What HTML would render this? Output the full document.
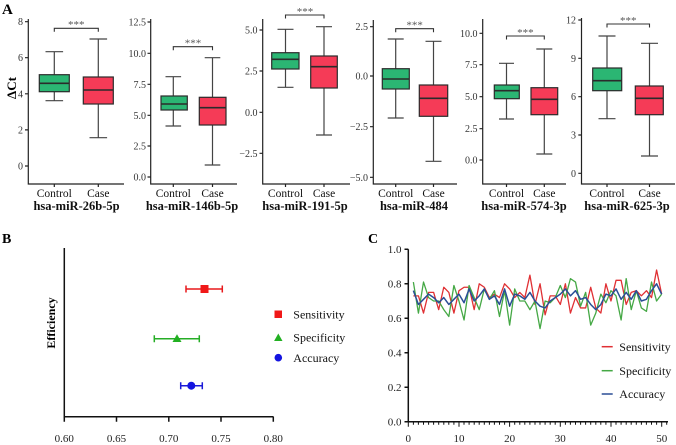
<!DOCTYPE html>
<html><head><meta charset="utf-8"><style>
html,body{margin:0;padding:0;background:#fff;}
svg{display:block;font-family:"Liberation Serif",serif;}
</style></head><body>
<svg width="676" height="445" viewBox="0 0 676 445" xmlns="http://www.w3.org/2000/svg">
<!-- Panel labels -->
<text x="2" y="14" font-size="15" font-weight="bold">A</text>
<text x="2" y="243" font-size="14" font-weight="bold">B</text>
<text x="368" y="243" font-size="14" font-weight="bold">C</text>

<!-- ΔCt label -->
<text transform="translate(16,88) rotate(-90)" text-anchor="middle" font-size="13" font-weight="bold">ΔCt</text>

<g stroke="#222" stroke-width="1.2" fill="none">
<!-- Plot 1 axes -->
<path d="M28.3,19V184H124M25,166H28.3M25,129.9H28.3M25,93.8H28.3M25,57.7H28.3M25,21.7H28.3M54.3,184v3M98.3,184v3"/>
<!-- Plot 2 axes -->
<path d="M150.7,19V184H237M147.5,22H150.7M147.5,53.3H150.7M147.5,84.3H150.7M147.5,115.3H150.7M147.5,146H150.7M147.5,177H150.7M173.3,184v3M212.5,184v3"/>
<!-- Plot 3 axes -->
<path d="M262.7,19V184H350M259.5,30H262.7M259.5,71H262.7M259.5,112.3H262.7M259.5,153.3H262.7M285.5,184v3M324,184v3"/>
<!-- Plot 4 axes -->
<path d="M373.3,20V184H457M370,26.7H373.3M370,76H373.3M370,126.7H373.3M370,177.3H373.3M395.7,184v3M433.5,184v3"/>
<!-- Plot 5 axes -->
<path d="M482.7,19V184H566M479.5,33.3H482.7M479.5,64.7H482.7M479.5,96.7H482.7M479.5,128.7H482.7M479.5,160H482.7M506.5,184v3M544.3,184v3"/>
<!-- Plot 6 axes -->
<path d="M581.5,18V184H675M578.3,20H581.5M578.3,58.3H581.5M578.3,96.7H581.5M578.3,135H581.5M578.3,173.3H581.5M607,184v3M649.5,184v3"/>
</g>

<!-- tick labels -->
<g font-size="10" fill="#333" text-anchor="end">
<text x="23" y="169.5">0</text><text x="23" y="133.4">2</text><text x="23" y="97.3">4</text><text x="23" y="61.2">6</text><text x="23" y="25.2">8</text>
<text x="146" y="25.5">12.5</text><text x="146" y="56.8">10.0</text><text x="146" y="87.8">7.5</text><text x="146" y="118.8">5.0</text><text x="146" y="149.5">2.5</text><text x="146" y="180.5">0.0</text>
<text x="257.5" y="33.5">5.0</text><text x="257.5" y="74.5">2.5</text><text x="257.5" y="115.8">0.0</text><text x="257.5" y="156.8">−2.5</text>
<text x="368" y="30.2">2.5</text><text x="368" y="79.5">0.0</text><text x="368" y="130.2">−2.5</text><text x="368" y="180.8">−5.0</text>
<text x="477.5" y="36.8">10.0</text><text x="477.5" y="68.2">7.5</text><text x="477.5" y="100.2">5.0</text><text x="477.5" y="132.2">2.5</text><text x="477.5" y="163.5">0.0</text>
<text x="576" y="23.5">12</text><text x="576" y="61.8">9</text><text x="576" y="100.2">6</text><text x="576" y="138.5">3</text><text x="576" y="176.8">0</text>
</g>

<!-- category labels -->
<g font-size="11.5" fill="#111" text-anchor="middle">
<text x="54.3" y="197">Control</text><text x="98.3" y="197">Case</text>
<text x="173.3" y="197">Control</text><text x="212.5" y="197">Case</text>
<text x="285.5" y="197">Control</text><text x="324" y="197">Case</text>
<text x="395.7" y="197">Control</text><text x="433.5" y="197">Case</text>
<text x="506.5" y="197">Control</text><text x="544.3" y="197">Case</text>
<text x="607" y="197">Control</text><text x="649.5" y="197">Case</text>
</g>
<g font-size="12.5" font-weight="bold" fill="#111" text-anchor="middle">
<text x="76.5" y="210">hsa-miR-26b-5p</text>
<text x="192" y="210">hsa-miR-146b-5p</text>
<text x="305" y="210">hsa-miR-191-5p</text>
<text x="414" y="210">hsa-miR-484</text>
<text x="524" y="210">hsa-miR-574-3p</text>
<text x="627" y="210">hsa-miR-625-3p</text>
</g>

<!-- boxes -->
<g stroke="#2b2b2b" stroke-width="1.2">
<!-- Plot 1 control -->
<path d="M54.3,51.7V100.7M45.5,51.7H63.1M45.5,100.7H63.1" fill="none" stroke="#444"/>
<rect x="39.3" y="74.7" width="30" height="17" fill="#2bb673"/><path d="M39.3,83.3H69.3" stroke-width="1.6"/>
<!-- Plot 1 case -->
<path d="M98.3,39V137.7M89.5,39H107.1M89.5,137.7H107.1" fill="none" stroke="#444"/>
<rect x="83.3" y="77" width="30" height="27" fill="#f53b57"/><path d="M83.3,90H113.3" stroke-width="1.6"/>

<!-- Plot 2 -->
<path d="M173.3,76.7V126M165.5,76.7H181.1M165.5,126H181.1" fill="none" stroke="#444"/>
<rect x="161" y="96" width="26.3" height="14" fill="#2bb673"/><path d="M161,104H187.3" stroke-width="1.6"/>
<path d="M212.5,57.7V165M204.7,57.7H220.3M204.7,165H220.3" fill="none" stroke="#444"/>
<rect x="199.3" y="97.3" width="26.7" height="27.7" fill="#f53b57"/><path d="M199.3,107.7H226" stroke-width="1.6"/>

<!-- Plot 3 -->
<path d="M285.5,29.3V87.3M277.5,29.3H293.5M277.5,87.3H293.5" fill="none" stroke="#444"/>
<rect x="271.7" y="52.7" width="27.3" height="16.3" fill="#2bb673"/><path d="M271.7,59.3H299" stroke-width="1.6"/>
<path d="M324,26.7V135M316,26.7H332M316,135H332" fill="none" stroke="#444"/>
<rect x="310.7" y="56" width="26.6" height="32" fill="#f53b57"/><path d="M310.7,66.7H337.3" stroke-width="1.6"/>

<!-- Plot 4 -->
<path d="M395.7,39V118M387.7,39H403.7M387.7,118H403.7" fill="none" stroke="#444"/>
<rect x="382.3" y="68.7" width="27" height="20.3" fill="#2bb673"/><path d="M382.3,79H409.3" stroke-width="1.6"/>
<path d="M433.5,41.3V161.3M425.5,41.3H441.5M425.5,161.3H441.5" fill="none" stroke="#444"/>
<rect x="419.3" y="85" width="28.4" height="31.3" fill="#f53b57"/><path d="M419.3,98.3H447.7" stroke-width="1.6"/>

<!-- Plot 5 -->
<path d="M506.5,63.3V119M499,63.3H514M499,119H514" fill="none" stroke="#444"/>
<rect x="494.3" y="85" width="25" height="13.7" fill="#2bb673"/><path d="M494.3,90.7H519.3" stroke-width="1.6"/>
<path d="M544.3,49V154M536.3,49H552.3M536.3,154H552.3" fill="none" stroke="#444"/>
<rect x="531" y="87.7" width="26.7" height="27" fill="#f53b57"/><path d="M531,99.3H557.7" stroke-width="1.6"/>

<!-- Plot 6 -->
<path d="M607,36V118.7M598.5,36H615.5M598.5,118.7H615.5" fill="none" stroke="#444"/>
<rect x="592.7" y="68" width="29" height="22.7" fill="#2bb673"/><path d="M592.7,80.7H621.7" stroke-width="1.6"/>
<path d="M649.5,43.3V156M641,43.3H658M641,156H658" fill="none" stroke="#444"/>
<rect x="635.3" y="86" width="28" height="28.7" fill="#f53b57"/><path d="M635.3,98.3H663.3" stroke-width="1.6"/>
</g>

<!-- significance brackets -->
<g stroke="#333" stroke-width="1.1" fill="none">
<path d="M54.3,31.8V28.3H98.3V31.8"/>
<path d="M173.3,50.2V46.7H212.5V50.2"/>
<path d="M285.5,18.5V15H324V18.5"/>
<path d="M395.7,32.2V28.7H433.5V32.2"/>
<path d="M506.5,39.5V36H544.3V39.5"/>
<path d="M607,27.5V24H649.5V27.5"/>
</g>
<g font-size="11" fill="#555" text-anchor="middle">
<text x="76.3" y="28">***</text>
<text x="193" y="46.5">***</text>
<text x="305" y="15">***</text>
<text x="414.6" y="28.5">***</text>
<text x="525.4" y="36">***</text>
<text x="628.2" y="24">***</text>
</g>

<!-- Panel B -->
<text transform="translate(55,323) rotate(-90)" text-anchor="middle" font-size="12" font-weight="bold">Efficiency</text>
<g stroke="#111" stroke-width="1.5" fill="none">
<path d="M64.3,248V416.7H273.5"/>
<path d="M64.3,416.7v5M116.5,416.7v5M168.8,416.7v5M221,416.7v5M273.3,416.7v5"/>
</g>
<g font-size="11" fill="#222" text-anchor="middle">
<text x="64.3" y="442">0.60</text><text x="116.5" y="442">0.65</text><text x="168.8" y="442">0.70</text><text x="221" y="442">0.75</text><text x="273.3" y="442">0.80</text>
</g>
<g stroke-width="1.5" fill="none">
<path d="M186,289H222.3M186,285.5V292.5M222.3,285.5V292.5" stroke="#e8191c"/>
<path d="M154.3,338.7H199.3M154.3,335.2V342.2M199.3,335.2V342.2" stroke="#26ad26"/>
<path d="M180.7,385.7H202.3M180.7,382.2V389.2M202.3,382.2V389.2" stroke="#1a1ad8"/>
</g>
<rect x="200.5" y="285" width="8" height="8" fill="#f01818"/>
<path d="M177,334.2L181.5,342L172.5,342Z" fill="#22b022"/>
<circle cx="191.3" cy="385.7" r="4" fill="#1414e0"/>
<!-- B legend -->
<rect x="274.5" y="310.5" width="7.5" height="7.5" fill="#f01818"/>
<path d="M278.3,333.5L282.5,341L274.1,341Z" fill="#22b022"/>
<circle cx="278.3" cy="357.7" r="3.8" fill="#1414e0"/>
<g font-size="12" fill="#111">
<text x="293.3" y="318.5">Sensitivity</text>
<text x="293.3" y="341.3">Specificity</text>
<text x="293.3" y="361.8">Accuracy</text>
</g>

<!-- Panel C -->
<g stroke="#111" stroke-width="1.5" fill="none">
<path d="M408.3,249.3V421.7H668"/>
<path d="M404.5,249.3H408.3M404.5,283.8H408.3M404.5,318.3H408.3M404.5,352.7H408.3M404.5,387.2H408.3M404.5,421.7H408.3"/>
</g>
<g stroke="#111" stroke-width="1" fill="none">
<path d="M408.3,421.7v5M459,421.7v5M509.6,421.7v5M560.3,421.7v5M611,421.7v5M661.7,421.7v5"/>
<path d="M413.4,421.7v3M418.4,421.7v3M423.5,421.7v3M428.6,421.7v3M433.6,421.7v3M438.7,421.7v3M443.8,421.7v3M448.8,421.7v3M453.9,421.7v3
M464,421.7v3M469.1,421.7v3M474.2,421.7v3M479.2,421.7v3M484.3,421.7v3M489.4,421.7v3M494.4,421.7v3M499.5,421.7v3M504.6,421.7v3
M514.7,421.7v3M519.8,421.7v3M524.8,421.7v3M529.9,421.7v3M535,421.7v3M540,421.7v3M545.1,421.7v3M550.2,421.7v3M555.2,421.7v3
M565.4,421.7v3M570.4,421.7v3M575.5,421.7v3M580.6,421.7v3M585.6,421.7v3M590.7,421.7v3M595.8,421.7v3M600.8,421.7v3M605.9,421.7v3
M616,421.7v3M621.1,421.7v3M626.2,421.7v3M631.2,421.7v3M636.3,421.7v3M641.4,421.7v3M646.4,421.7v3M651.5,421.7v3M656.6,421.7v3
M666.7,421.7v3"/>
</g>
<g font-size="11" fill="#222" text-anchor="end">
<text x="401.5" y="253">1.0</text><text x="401.5" y="287.5">0.8</text><text x="401.5" y="322">0.6</text><text x="401.5" y="356.4">0.4</text><text x="401.5" y="390.9">0.2</text><text x="401.5" y="425.4">0.0</text>
</g>
<g font-size="11" fill="#222" text-anchor="middle">
<text x="408.3" y="442">0</text><text x="459" y="442">10</text><text x="509.6" y="442">20</text><text x="560.3" y="442">30</text><text x="611" y="442">40</text><text x="661.7" y="442">50</text>
</g>
<g transform="translate(408.3,421.7) scale(5.067,-172.4)" fill="none" stroke-linejoin="round">
<polyline vector-effect="non-scaling-stroke" stroke="#e03034" stroke-width="1.3" points="1,0.73 2,0.73 3,0.63 4,0.75 5,0.75 6,0.65 7,0.78 8,0.75 9,0.63 10,0.76 11,0.78 12,0.78 13,0.65 14,0.80 15,0.78 16,0.72 17,0.74 18,0.72 19,0.80 20,0.77 21,0.72 22,0.75 23,0.72 24,0.85 25,0.68 26,0.80 27,0.62 28,0.73 29,0.73 30,0.68 31,0.80 32,0.63 33,0.72 34,0.66 35,0.66 36,0.78 37,0.66 38,0.63 39,0.80 40,0.70 41,0.82 42,0.82 43,0.68 44,0.75 45,0.76 46,0.73 47,0.76 48,0.72 49,0.88 50,0.74"/>
<polyline vector-effect="non-scaling-stroke" stroke="#45a845" stroke-width="1.3" points="1,0.81 2,0.63 3,0.81 4,0.72 5,0.70 6,0.70 7,0.65 8,0.61 9,0.79 10,0.70 11,0.59 12,0.79 13,0.72 14,0.65 15,0.77 16,0.71 17,0.76 18,0.61 19,0.76 20,0.56 21,0.77 22,0.70 23,0.70 24,0.65 25,0.70 26,0.54 27,0.70 28,0.69 29,0.72 30,0.79 31,0.72 32,0.83 33,0.81 34,0.67 35,0.75 36,0.56 37,0.63 38,0.74 39,0.69 40,0.76 41,0.73 42,0.59 43,0.83 44,0.65 45,0.76 46,0.66 47,0.64 48,0.81 49,0.70 50,0.74"/>
<polyline vector-effect="non-scaling-stroke" stroke="#2a4e96" stroke-width="1.5" points="1,0.76 2,0.68 3,0.71 4,0.74 5,0.72 6,0.69 7,0.72 8,0.68 9,0.71 10,0.74 11,0.69 12,0.77 13,0.70 14,0.73 15,0.77 16,0.71 17,0.73 18,0.68 19,0.77 20,0.67 21,0.74 22,0.73 23,0.71 24,0.75 25,0.70 26,0.67 27,0.66 28,0.70 29,0.72 30,0.74 31,0.77 32,0.73 33,0.76 34,0.71 35,0.72 36,0.68 37,0.65 38,0.68 39,0.74 40,0.73 41,0.77 42,0.71 43,0.75 44,0.71 45,0.76 46,0.70 47,0.71 48,0.76 49,0.80 50,0.74"/>
</g>
<!-- C legend -->
<g stroke-width="1.5">
<path d="M601.7,346.7H612.7" stroke="#e03034"/>
<path d="M601.7,370.7H612.7" stroke="#45a845"/>
<path d="M601.7,394H612.7" stroke="#2a4e96"/>
</g>
<g font-size="12" fill="#111">
<text x="619.3" y="350.8">Sensitivity</text>
<text x="619.3" y="374.8">Specificity</text>
<text x="619.3" y="398.1">Accuracy</text>
</g>
</svg>
</body></html>
